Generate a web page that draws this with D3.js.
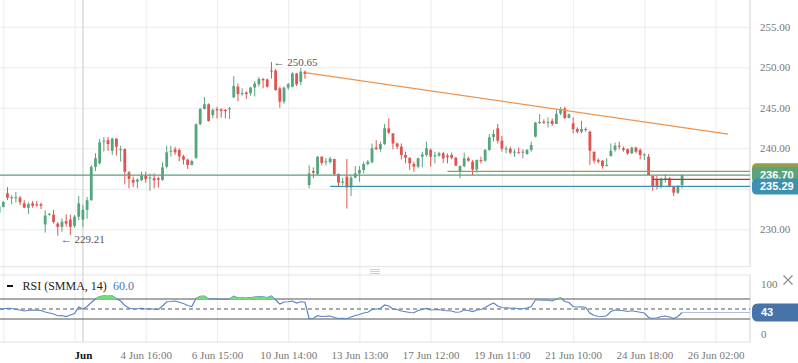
<!DOCTYPE html>
<html>
<head>
<meta charset="utf-8">
<script src="https://cdn.jsdelivr.net/npm/d3@7"></script>
<style>
    body { margin: 0; background: #fff; }
    svg { display: block; }
    .axis-label { font-family: "Liberation Serif", "Times New Roman", serif; font-size: 11px; fill: #777; }
    .axis path { display: none; }
</style>
</head>
<body>
<div id="chart"></div>
<script>

// hourly candles, index 0 is the left-most (partly cut) candle
const opens = [232.05, 232.75, 234.44, 233.9, 233.85, 233.9, 233.2, 232.67, 233.2, 233.1,
    233.08, 230.6, 231.85, 231.8, 230.7, 230.3, 231.0, 231.2, 230.4, 231.56,
    231.2, 232.4, 233.6, 237.7, 238.14, 240.82, 241.0, 239.7, 241.2, 239.8,
    239.9, 237.03, 236.1, 235.88, 236.05, 236.6, 236.3, 236.3, 236.3, 236.1,
    237.73, 239.6, 239.87, 239.8, 239.0, 238.6, 237.94, 238.84, 242.96, 244.85,
    245.43, 244.1, 244.85, 244.8, 244.75, 244.8, 246.3, 247.6, 246.7, 246.9,
    246.8, 247.5, 247.9, 248.55, 248.5, 249.6, 249.6, 247.4, 245.76, 247.5,
    247.6, 249.25, 248.2, 249.46, 235.47, 237.2, 236.83, 238.97, 238.3, 238.3,
    238.68, 236.83, 235.76, 236.5, 235.18, 236.37, 236.9, 237.32, 238.06, 238.27,
    240.1, 239.9, 240.53, 242.46, 241.85, 240.6, 240.2, 239.17, 238.84, 238.06,
    237.73, 238.97, 239.17, 239.8, 239.0, 239.09, 239.38, 239.09, 239.17, 238.84,
    237.2, 237.8, 238.76, 238.35, 237.4, 238.55, 238.47, 239.8, 241.4, 242.46,
    240.94, 239.9, 239.95, 239.46, 239.5, 239.58, 239.3, 239.8, 241.44, 243.16,
    243.29, 243.16, 243.4, 243.0, 244.3, 244.9, 243.75, 243.08, 242.38, 242.05,
    242.38, 242.05, 239.58, 238.55, 238.47, 237.8, 239.05, 239.8, 240.32, 240.0,
    239.87, 239.38, 240.08, 239.8, 239.17, 238.97, 236.58, 236.17, 235.35, 236.17,
    236.3, 235.35, 234.52, 235.47];
const highs = [233.0, 233.5, 235.2, 234.2, 234.6, 234.1, 233.6, 233.3, 233.5, 233.5,
    233.3, 232.35, 232.0, 232.4, 230.9, 231.35, 231.85, 231.8, 231.77, 234.1,
    233.0, 234.0, 237.94, 239.4, 241.15, 241.4, 241.4, 241.3, 241.2, 240.3,
    240.0, 237.2, 236.5, 236.3, 237.1, 237.1, 236.9, 236.9, 236.5, 238.27,
    240.3, 240.3, 240.2, 240.0, 239.2, 238.7, 238.6, 243.08, 245.0, 246.33,
    245.55, 244.93, 245.1, 244.93, 244.85, 245.1, 248.9, 248.0, 247.4, 247.0,
    247.6, 248.3, 248.8, 248.7, 248.6, 250.65, 249.8, 247.6, 247.6, 248.1,
    249.4, 249.3, 249.9, 249.6, 237.9, 237.65, 239.0, 239.0, 238.8, 238.97,
    238.7, 236.9, 236.37, 238.68, 236.6, 237.8, 237.8, 238.35, 238.55, 240.6,
    241.0, 240.82, 243.0, 243.7, 241.85, 240.7, 240.6, 239.58, 238.84, 238.35,
    238.84, 239.58, 240.82, 240.0, 239.58, 239.58, 239.58, 239.38, 239.46, 238.9,
    237.9, 239.46, 238.97, 238.55, 238.64, 238.97, 239.9, 241.76, 242.26, 243.0,
    241.52, 240.28, 240.2, 239.87, 240.08, 239.87, 239.9, 240.82, 243.25, 244.23,
    243.57, 243.82, 243.7, 244.8, 245.1, 245.15, 244.3, 243.82, 242.59, 243.4,
    242.59, 242.18, 239.58, 238.76, 238.55, 238.76, 240.6, 240.7, 240.82, 240.2,
    240.0, 240.2, 240.2, 240.0, 239.38, 239.3, 236.58, 236.58, 236.42, 236.83,
    236.42, 235.35, 235.47, 236.75];
const lows = [231.85, 232.7, 233.6, 233.1, 233.3, 233.0, 232.6, 231.9, 232.67, 232.8,
    232.5, 229.6, 231.7, 230.7, 229.21, 229.7, 230.3, 229.3, 230.2, 231.15,
    230.3, 231.3, 233.5, 237.2, 238.02, 239.6, 239.67, 239.2, 239.1, 238.35,
    235.55, 235.06, 235.2, 235.06, 236.0, 235.76, 234.77, 235.06, 235.14, 236.0,
    237.5, 238.97, 239.2, 238.4, 238.0, 237.45, 237.9, 238.68, 242.9, 244.8,
    243.3, 243.7, 243.7, 243.78, 243.7, 243.6, 246.2, 245.8, 246.5, 246.1,
    246.5, 246.4, 247.6, 247.4, 247.5, 248.6, 247.1, 245.0, 245.5, 247.2,
    247.5, 247.7, 247.8, 248.6, 235.06, 236.3, 236.7, 237.9, 237.9, 238.1,
    236.6, 235.35, 235.47, 232.55, 234.11, 236.3, 235.88, 236.9, 237.9, 238.14,
    239.8, 239.58, 240.4, 241.76, 239.87, 239.9, 238.64, 238.14, 237.3, 237.1,
    237.53, 237.65, 238.97, 237.73, 238.14, 238.97, 238.22, 238.14, 238.64, 237.8,
    236.3, 237.65, 238.35, 236.7, 237.0, 238.14, 238.35, 239.7, 240.82, 240.6,
    239.6, 239.38, 239.3, 238.9, 239.38, 238.76, 239.2, 239.58, 241.35, 243.0,
    243.0, 242.59, 242.75, 243.0, 244.1, 243.6, 243.7, 241.85, 241.85, 241.85,
    242.05, 237.94, 238.14, 238.14, 237.5, 237.8, 238.97, 239.58, 239.87, 239.58,
    239.17, 239.3, 239.38, 238.64, 238.55, 236.7, 234.77, 234.93, 235.06, 235.76,
    235.18, 234.11, 234.36, 235.06];
const closes = [232.8, 233.37, 233.9, 233.95, 233.95, 233.33, 232.67, 233.1, 232.9, 232.96,
    232.9, 231.7, 231.9, 230.9, 230.3, 230.94, 230.7, 230.3, 231.56, 233.2,
    232.4, 233.6, 237.7, 238.76, 240.74, 240.94, 240.53, 241.2, 240.2, 239.9,
    237.1, 236.2, 235.76, 236.13, 236.6, 236.2, 236.4, 236.05, 236.1, 237.65,
    239.5, 239.7, 239.5, 239.0, 238.6, 237.94, 238.43, 242.96, 244.85, 245.43,
    243.37, 244.73, 244.7, 244.6, 244.6, 244.93, 247.7, 246.7, 246.8, 246.7,
    247.5, 248.0, 248.55, 248.4, 247.6, 249.5, 247.2, 245.76, 247.5, 247.9,
    249.25, 247.9, 249.46, 249.17, 236.9, 237.0, 238.97, 238.2, 238.4, 238.72,
    236.83, 235.76, 235.9, 235.18, 236.37, 236.9, 237.32, 238.06, 238.35, 240.0,
    239.9, 240.53, 242.46, 241.93, 240.6, 240.2, 239.17, 238.84, 238.14, 237.73,
    238.76, 239.25, 240.0, 238.97, 239.13, 239.38, 238.76, 238.9, 238.84, 237.86,
    237.8, 238.76, 238.47, 237.4, 238.55, 238.43, 239.8, 241.35, 241.76, 240.94,
    239.95, 239.99, 239.46, 239.58, 239.42, 239.58, 239.8, 240.4, 243.16, 243.25,
    243.16, 243.25, 243.0, 244.25, 244.85, 243.75, 244.2, 242.38, 242.05, 242.38,
    242.26, 239.7, 238.47, 238.35, 237.8, 237.94, 239.7, 240.32, 240.2, 239.8,
    239.38, 240.08, 239.58, 239.17, 239.25, 236.7, 235.35, 235.35, 236.17, 236.3,
    235.35, 234.52, 235.35, 236.7];

// RSI (SMMA, 14) read per candle
const rsiValues = [49.5, 50.5, 51.5, 51, 49, 48, 46, 47.5, 48, 47.5,
    47, 44, 42, 40, 36.5, 37, 35, 38, 41, 54,
    50, 55, 63, 70, 75, 76.5, 76, 76.5, 70.5, 66,
    57, 52, 50, 50.5, 51.5, 50, 50.5, 49.5, 49, 56,
    64.5, 65, 66, 63.5, 61, 57, 55, 71, 75.5, 76,
    70, 70.5, 70, 69.5, 69.5, 70, 75.5, 72, 72.5, 72,
    73, 74, 75, 74.5, 73, 76, 68, 60, 64, 64.5,
    66, 62, 64.5, 63.5, 31, 31.5, 36.5, 35, 35.5, 36,
    33, 31, 31.5, 30.5, 34, 37, 39, 42, 43.5, 49,
    50, 51, 58, 56, 50, 49, 46, 44.5, 43, 42.5,
    47, 49, 51, 48, 48.5, 49, 47, 46.5, 46, 43.5,
    44, 48, 47, 45, 48, 49, 53, 58, 62, 56,
    53, 52.5, 51.5, 52, 50.5, 50.5, 52, 55, 68, 68,
    67.5, 67.5, 66, 70, 72.5, 65, 63, 55, 54, 54.5,
    53, 42, 37, 35.5, 35, 36.5, 45, 48, 47.5, 46.5,
    45, 46.5, 45, 43.5, 42, 33, 31, 32.5, 35, 36,
    34, 31, 35, 43];

// time axis (candle index based, weekends skipped)
const gridIdx = [1, 18, 35, 52, 69, 86, 103, 120, 137, 154, 171];
const monthIdx = 20;
const timeIdx = [20, 35, 52, 69, 86, 103, 120, 137, 154, 171];
const timeLabels = ["Jun", "4 Jun 16:00", "6 Jun 15:00", "10 Jun 14:00", "13 Jun 13:00",
    "17 Jun 12:00", "19 Jun 11:00", "21 Jun 10:00", "24 Jun 18:00", "26 Jun 02:00"];

const priceTicks = [230, 235, 240, 245, 250, 255];
// 235.00 sits under the price tags, so it gets no label
const priceLabelTicks = [230, 240, 245, 250, 255];
const rsiTicks = [0, 100];
const rsiLevels = [30, 50, 70];

// drawings on the chart
const trendIdx = [73, 174];
const trendPrice = [249.35, 241.75];
const levelNames = ["olive", "last", "ask", "bid"];
const levelPrices = [237.16, 236.70, 236.17, 235.29];
const levelStart = [107, -1, 156, 79];
const lastRsi = 43;
const extremeIdx = [65, 14];
const extremeText = ["250.65", "229.21"];


class CandleChart {

    constructor(parentElement) {
        this.parentElement = parentElement;
        this.initVis();
    }

    initVis() {
        let vis = this;

        vis.width = 798;
        vis.height = 363;
        vis.plotRight = 750;
        vis.mainBottom = 266.7;
        vis.rsiTop = 275;
        vis.rsiBottom = 342;

        vis.svg = d3.select("#" + vis.parentElement).append("svg")
            .attr("width", vis.width)
            .attr("height", vis.height);

        // candle index -> px
        vis.x = d3.scaleLinear().domain([0, 171]).range([-0.9, 715.6]);
        vis.y = d3.scaleLinear().domain([230, 255]).range([229.3, 26.8]);
        vis.yRsi = d3.scaleLinear().domain([0, 100]).range([334, 284]);

        let defs = vis.svg.append("defs");
        defs.append("clipPath").attr("id", "clip-main")
            .append("rect").attr("x", 0).attr("y", 0)
            .attr("width", vis.plotRight).attr("height", vis.mainBottom);
        defs.append("clipPath").attr("id", "clip-rsi")
            .append("rect").attr("x", 0).attr("y", vis.rsiTop)
            .attr("width", vis.plotRight).attr("height", vis.rsiBottom - vis.rsiTop);
        defs.append("clipPath").attr("id", "clip-ob")
            .append("rect").attr("x", 0).attr("y", vis.rsiTop)
            .attr("width", vis.plotRight).attr("height", vis.yRsi(70) - vis.rsiTop);

        vis.drawGrid();
        vis.drawCandles();
        vis.drawDrawings();
        vis.drawRsi();
        vis.drawAxes();
    }

    drawGrid() {
        let vis = this;

        // horizontal price grid
        vis.svg.append("g")
            .attr("class", "axis grid")
            .call(d3.axisLeft(vis.y).tickValues(priceTicks).tickSize(-vis.plotRight).tickFormat(""))
            .selectAll("line").attr("stroke", "#ececf0");

        // vertical time grid across both panels
        vis.svg.append("g")
            .attr("class", "axis grid")
            .call(d3.axisBottom(vis.x).tickValues(gridIdx).tickSize(vis.rsiBottom).tickFormat(""))
            .selectAll("line").attr("stroke", "#ececf0");

        vis.svg.append("line")
            .attr("x1", vis.x(monthIdx)).attr("x2", vis.x(monthIdx))
            .attr("y1", 0).attr("y2", vis.rsiBottom)
            .attr("stroke", "#dcdcdc").attr("stroke-width", 1.6);

        // panel borders
        let border = "#e2e2e6";
        vis.svg.append("line").attr("x1", 0).attr("x2", vis.plotRight)
            .attr("y1", vis.mainBottom).attr("y2", vis.mainBottom).attr("stroke", border);
        vis.svg.append("line").attr("x1", 0).attr("x2", vis.plotRight)
            .attr("y1", vis.rsiTop).attr("y2", vis.rsiTop).attr("stroke", border);
        vis.svg.append("line").attr("x1", 0).attr("x2", vis.plotRight)
            .attr("y1", vis.rsiBottom).attr("y2", vis.rsiBottom).attr("stroke", border);
        vis.svg.append("line").attr("x1", vis.plotRight).attr("x2", vis.plotRight)
            .attr("y1", 0).attr("y2", vis.mainBottom).attr("stroke", "#d4d4d8");
        vis.svg.append("line").attr("x1", vis.plotRight).attr("x2", vis.plotRight)
            .attr("y1", vis.rsiTop).attr("y2", vis.rsiBottom).attr("stroke", "#d4d4d8");

        // panel splitter grip
        [269.5, 271.5, 273.5].forEach(function (yy) {
            vis.svg.append("line").attr("x1", 370).attr("x2", 380)
                .attr("y1", yy).attr("y2", yy).attr("stroke", "#cfcfcf");
        });
    }

    drawCandles() {
        let vis = this;

        let candles = d3.range(closes.length).map(function (i) {
            return {i: i, o: opens[i], h: highs[i], l: lows[i], c: closes[i]};
        });

        let color = function (d) {
            if (d.c > d.o) return "#55a57d";
            else if (d.c < d.o) return "#e0534f";
            return "#8a8a8a";
        };

        let g = vis.svg.append("g").attr("clip-path", "url(#clip-main)");

        g.selectAll(".wick").data(candles).enter().append("rect")
            .attr("class", "wick")
            .attr("x", d => vis.x(d.i) - 0.5)
            .attr("width", 1)
            .attr("y", d => vis.y(d.h))
            .attr("height", d => Math.max(1, vis.y(d.l) - vis.y(d.h)))
            .attr("fill", color);

        g.selectAll(".body").data(candles).enter().append("rect")
            .attr("class", "body")
            .attr("x", d => vis.x(d.i) - 1.4)
            .attr("width", 2.8)
            .attr("y", d => vis.y(Math.max(d.o, d.c)))
            .attr("height", d => Math.max(1, Math.abs(vis.y(d.o) - vis.y(d.c))))
            .attr("fill", color);
    }

    drawDrawings() {
        let vis = this;
        let g = vis.svg.append("g").attr("clip-path", "url(#clip-main)");

        let levelColor = {olive: "#8fa14c", last: "#5c9e7b", ask: "#a83c3c", bid: "#3c93b2"};

        levelNames.forEach(function (name, k) {
            g.append("line")
                .attr("x1", levelStart[k] < 0 ? 0 : vis.x(levelStart[k]))
                .attr("x2", vis.plotRight)
                .attr("y1", vis.y(levelPrices[k])).attr("y2", vis.y(levelPrices[k]))
                .attr("stroke", levelColor[name]).attr("stroke-width", 1.2);
        });

        // trend line
        g.append("line")
            .attr("x1", vis.x(trendIdx[0])).attr("y1", vis.y(trendPrice[0]))
            .attr("x2", vis.x(trendIdx[1])).attr("y2", vis.y(trendPrice[1]))
            .attr("stroke", "#ec9550").attr("stroke-width", 1.3);

        // high / low marks
        g.append("text").attr("class", "axis-label")
            .attr("x", vis.x(extremeIdx[0]) + 2).attr("y", vis.y(highs[extremeIdx[0]]))
            .attr("dy", "0.35em").style("fill", "#555")
            .text("\u2190 " + extremeText[0]);
        g.append("text").attr("class", "axis-label")
            .attr("x", vis.x(extremeIdx[1]) + 3).attr("y", vis.y(lows[extremeIdx[1]]) + 3)
            .attr("dy", "0.35em").style("fill", "#555")
            .text("\u2190 " + extremeText[1]);
    }

    drawRsi() {
        let vis = this;
        let g = vis.svg.append("g").attr("clip-path", "url(#clip-rsi)");

        rsiLevels.forEach(function (lv) {
            g.append("line")
                .attr("x1", 0).attr("x2", vis.plotRight)
                .attr("y1", vis.yRsi(lv)).attr("y2", vis.yRsi(lv))
                .attr("stroke", "#555")
                .attr("stroke-dasharray", lv === 50 ? "4,3" : null);
        });

        // overbought fill
        let area = d3.area()
            .x((d, i) => vis.x(i))
            .y0(vis.yRsi(70))
            .y1(d => vis.yRsi(d));
        vis.svg.append("path")
            .datum(rsiValues)
            .attr("clip-path", "url(#clip-ob)")
            .attr("d", area)
            .attr("fill", "#72dd72");

        let line = d3.line()
            .x((d, i) => vis.x(i))
            .y(d => vis.yRsi(d));
        g.append("path")
            .datum(rsiValues)
            .attr("d", line)
            .attr("fill", "none")
            .attr("stroke", "#5b86c4")
            .attr("stroke-width", 1.2);

        // current value line to the axis
        g.append("line")
            .attr("x1", vis.x(rsiValues.length - 1)).attr("x2", vis.plotRight)
            .attr("y1", vis.yRsi(lastRsi)).attr("y2", vis.yRsi(lastRsi))
            .attr("stroke", "#a9c0e0");

        // legend
        vis.svg.append("rect").attr("x", 7).attr("y", 285).attr("width", 6).attr("height", 2).attr("fill", "#111");
        vis.svg.append("text").attr("x", 22.5).attr("y", 290)
            .style("font-family", "'Liberation Serif', serif").style("font-size", "12px").style("fill", "#222")
            .text("RSI (SMMA, 14)");
        vis.svg.append("text").attr("x", 113).attr("y", 290)
            .style("font-family", "'Liberation Serif', serif").style("font-size", "12px").style("fill", "#4a78b2")
            .text("60.0");

        // close cross
        vis.svg.append("path").attr("d", "M783.5,275.5L792.5,284.5M792.5,275.5L783.5,284.5")
            .attr("stroke", "#8a8a8a").attr("stroke-width", 1.1);
    }

    tagPath(x, yc, w, h, r) {
        let t = yc - h / 2, b = yc + h / 2;
        return "M" + (x + r) + "," + t + "H" + (x + w) + "V" + b + "H" + (x + r) +
            "Q" + x + "," + b + " " + x + "," + (b - r) + "V" + (t + r) +
            "Q" + x + "," + t + " " + (x + r) + "," + t + "Z";
    }

    drawAxes() {
        let vis = this;

        let priceAxis = vis.svg.append("g")
            .attr("class", "axis")
            .attr("transform", "translate(" + vis.plotRight + ",0)")
            .call(d3.axisRight(vis.y).tickValues(priceLabelTicks).tickSize(0).tickPadding(10).tickFormat(d3.format(".2f")));
        priceAxis.selectAll("text").attr("class", "axis-label");

        let rsiAxis = vis.svg.append("g")
            .attr("class", "axis")
            .attr("transform", "translate(" + vis.plotRight + ",0)")
            .call(d3.axisRight(vis.yRsi).tickValues(rsiTicks).tickSize(0).tickPadding(11));
        rsiAxis.selectAll("text").attr("class", "axis-label");

        let timeAxis = vis.svg.append("g")
            .attr("class", "axis")
            .attr("transform", "translate(0," + vis.rsiBottom + ")")
            .call(d3.axisBottom(vis.x).tickValues(timeIdx).tickSize(0).tickPadding(9)
                .tickFormat((d, i) => timeLabels[i]));
        timeAxis.selectAll("text").attr("class", "axis-label")
            .style("fill", d => d === monthIdx ? "#111" : "#777")
            .style("font-weight", d => d === monthIdx ? "bold" : "normal");

        // price tags on the right
        let tags = [
            {p: levelPrices[0], c: "#8fa14c", t: ""},
            {p: levelPrices[1], c: "#5aa37c", t: "236.70"},
            {p: levelPrices[3], c: "#3d90ae", t: "235.29"}
        ];
        tags.forEach(function (d) {
            vis.svg.append("path")
                .attr("d", vis.tagPath(vis.plotRight + 2, vis.y(d.p), 50, 16, 5))
                .attr("fill", d.c);
            if (d.t) {
                vis.svg.append("text")
                    .attr("x", 760).attr("y", vis.y(d.p)).attr("dy", "0.35em")
                    .style("font-family", "'Liberation Sans', sans-serif").style("font-size", "11px")
                    .style("font-weight", "bold").style("fill", "#fff")
                    .text(d.t);
            }
        });

        vis.svg.append("path")
            .attr("d", vis.tagPath(vis.plotRight + 2, vis.yRsi(lastRsi), 50, 18, 6))
            .attr("fill", "#4673a8");
        vis.svg.append("text")
            .attr("x", 761).attr("y", vis.yRsi(lastRsi)).attr("dy", "0.35em")
            .style("font-family", "'Liberation Sans', sans-serif").style("font-size", "11px")
            .style("font-weight", "bold").style("fill", "#fff")
            .text(lastRsi);
    }
}

new CandleChart("chart");

</script>
</body>
</html>
